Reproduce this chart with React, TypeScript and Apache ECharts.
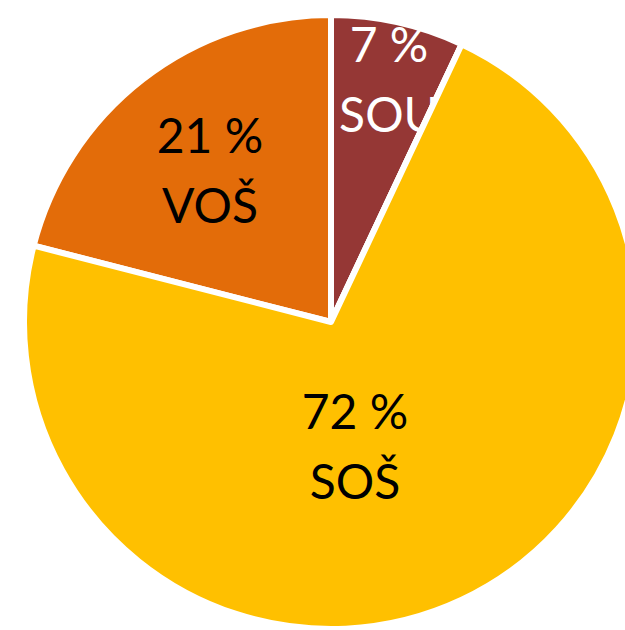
import React, { useEffect, useRef } from "react";
import * as echarts from "echarts";

const categories = ["SOU", "SOŠ", "VOŠ"];
const values = [7, 72, 21];
const colors = ["#953735", "#FFC000", "#E36C09"];
const labelColors = ["#FFFFFF", "#000000", "#000000"];
// label anchor positions (pixels) used only for placing texts
const labelPos = [
  [389, 78],
  [355, 445],
  [210, 169],
];

export default function App() {
  const ref = useRef<HTMLDivElement>(null);
  useEffect(() => {
    if (!ref.current) return;
    const chart = echarts.init(ref.current, null, { renderer: "svg" });
    const labelStyle = (i: number) => ({
      show: true,
      position: "inside",
      formatter: `${values[i]} %\n${categories[i]}`,
      color: labelColors[i],
      fontFamily: "Lato",
      fontSize: 48,
      lineHeight: 70,
      align: "center",
    });
    const layout = (p: any) => ({ x: labelPos[p.dataIndex][0], y: labelPos[p.dataIndex][1] });
    const common = {
      type: "pie",
      center: [331, 322],
      radius: 307,
      startAngle: 90,
      clockwise: true,
      avoidLabelOverlap: false,
      labelLine: { show: false },
      emphasis: { disabled: true },
      silent: true,
      labelLayout: layout,
    };
    chart.setOption({
      animation: false,
      series: [
        {
          ...common,
          z: 2,
          data: categories.map((c, i) => ({
            name: c,
            value: values[i],
            itemStyle: { color: colors[i], borderColor: "#fff", borderWidth: 6 },
            label: i === 0 ? labelStyle(i) : { show: false },
          })),
        },
        {
          ...common,
          z: 3,
          data: categories.map((c, i) => ({
            name: c,
            value: values[i],
            itemStyle:
              i === 1
                ? { color: colors[i], borderColor: "#fff", borderWidth: 6 }
                : { color: "transparent", borderWidth: 0 },
            label: i === 0 ? { show: false } : labelStyle(i),
          })),
        },
      ],
    });
    return () => chart.dispose();
  }, []);
  return (
    <div
      ref={ref}
      style={{ position: "fixed", left: 0, top: 0, width: 625, height: 630, background: "#fff" }}
    />
  );
}
